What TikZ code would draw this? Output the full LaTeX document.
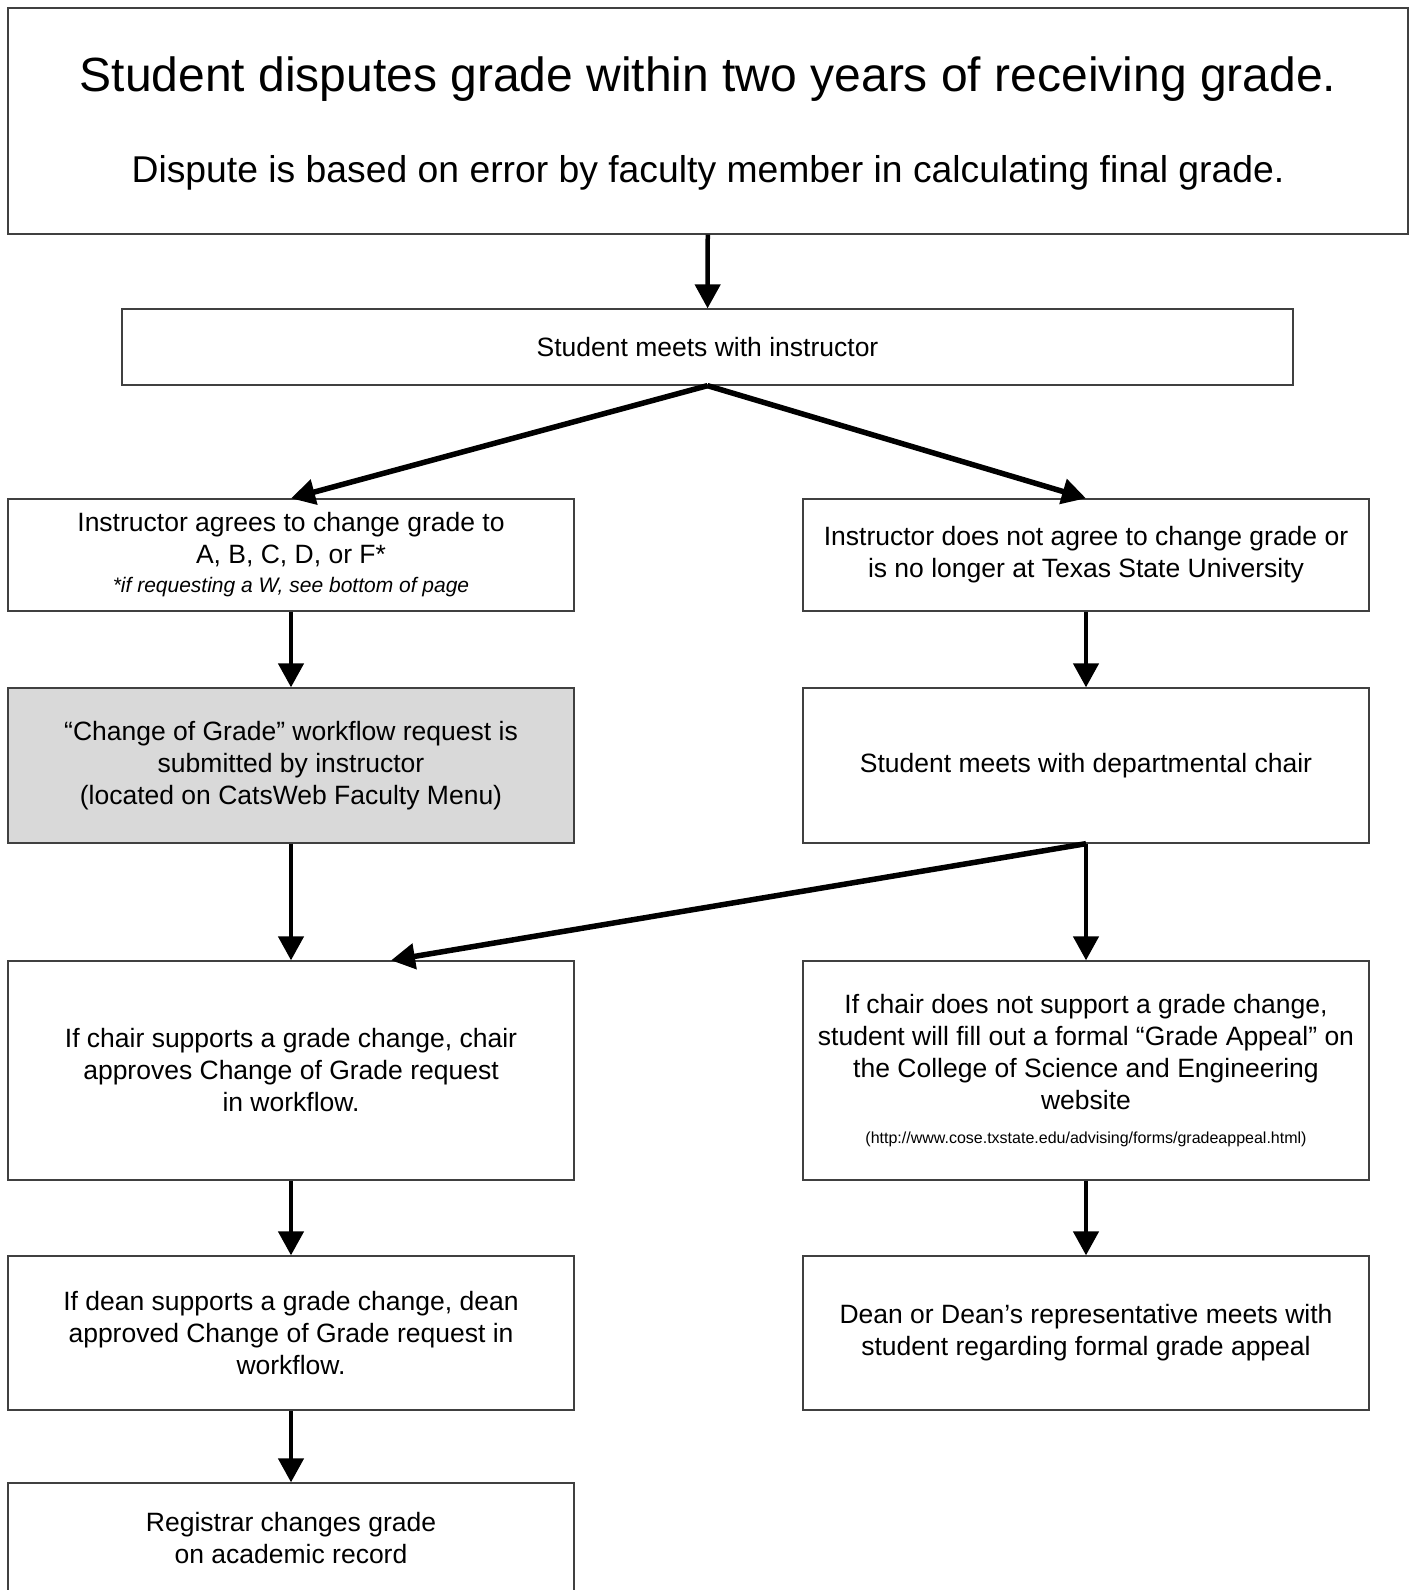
\documentclass[tikz,border=0pt]{standalone}
\usepackage{fontspec}
\setmainfont{Liberation Sans}
\usetikzlibrary{arrows.meta}

\definecolor{boxgray}{RGB}{217,217,217}
\definecolor{boxline}{RGB}{64,64,64}

\tikzset{
  stepbox/.style={draw=boxline, line width=1.3pt, fill=white, inner sep=0pt,
    minimum width=566pt, align=center, font=\fontsize{26.5}{32}\selectfont},
  flow/.style={line width=4.5pt, -{Triangle[length=24pt,width=25pt]}},
  slant/.style={flow, line width=5.5pt},
}

\begin{document}
\begin{tikzpicture}[x=1pt,y=-1pt]
        \useasboundingbox (0,0) rectangle (1411,1590);
        % top box
        \node[stepbox, minimum width=1400pt, minimum height=226pt] (dispute) at (708,121) {};
        \node[font=\fontsize{48}{58}\selectfont] (disputeA) at (708,79) {Student disputes grade within two years of receiving grade.};
        \node[font=\fontsize{37.3}{45}\selectfont] (disputeB) at (708,173) {Dispute is based on error by faculty member in calculating final grade.};
        \node[stepbox, minimum width=1171pt, minimum height=76pt] (meet) at (707.5,347) {Student meets with instructor};
        % left column
        \node[stepbox, minimum height=112pt] (agree) at (291,555) {Instructor agrees to change grade to\\A, B, C, D, or F*\\[-3pt]
          {\fontsize{21}{26}\selectfont\itshape *if requesting a W, see bottom of page}};
        \node[stepbox, minimum height=155pt, fill=boxgray] (submit) at (291,765.5) {“Change of Grade” workflow request is\\submitted by instructor\\(located on CatsWeb Faculty Menu)};
        \node[stepbox, minimum height=219pt] (approve) at (291,1070.5) {If chair supports a grade change, chair\\approves Change of Grade request\\in workflow.};
        \node[stepbox, minimum height=154pt] (dean) at (291,1333) {If dean supports a grade change, dean\\approved Change of Grade request in\\workflow.};
        \node[stepbox, minimum height=110pt] (record) at (291,1538) {Registrar changes grade\\on academic record};
        % right column
        \node[stepbox, minimum height=112pt] (disagree) at (1086,555) {Instructor does not agree to change grade or\\is no longer at Texas State University};
        \node[stepbox, minimum height=155pt] (chair) at (1086,765.5) {Student meets with departmental chair};
        \node[stepbox, minimum height=219pt] (appeal) at (1086,1070.5) {If chair does not support a grade change,\\student will fill out a formal “Grade Appeal” on\\the College of Science and Engineering\\website\\[2pt]
          {\fontsize{16}{20}\selectfont (http://www.cose.txstate.edu/advising/forms/gradeappeal.html)}};
        \node[stepbox, minimum height=154pt] (hearing) at (1086,1333) {Dean or Dean’s representative meets with\\student regarding formal grade appeal};
        % arrows
        \draw[flow] (dispute) -- (meet);
        \draw[slant] (meet.south) -- (agree.north);
        \draw[slant] (meet.south) -- (disagree.north);
        \draw[flow] (agree) -- (submit);
        \draw[flow] (submit) -- (approve);
        \draw[flow] (approve) -- (dean);
        \draw[flow] (dean) -- (record);
        \draw[flow] (disagree) -- (chair);
        \draw[flow] (chair) -- (appeal);
        \draw[slant] (chair.south) -- ([xshift=100pt]approve.north);
        \draw[flow] (appeal) -- (hearing);
    \end{tikzpicture}
\end{document}
